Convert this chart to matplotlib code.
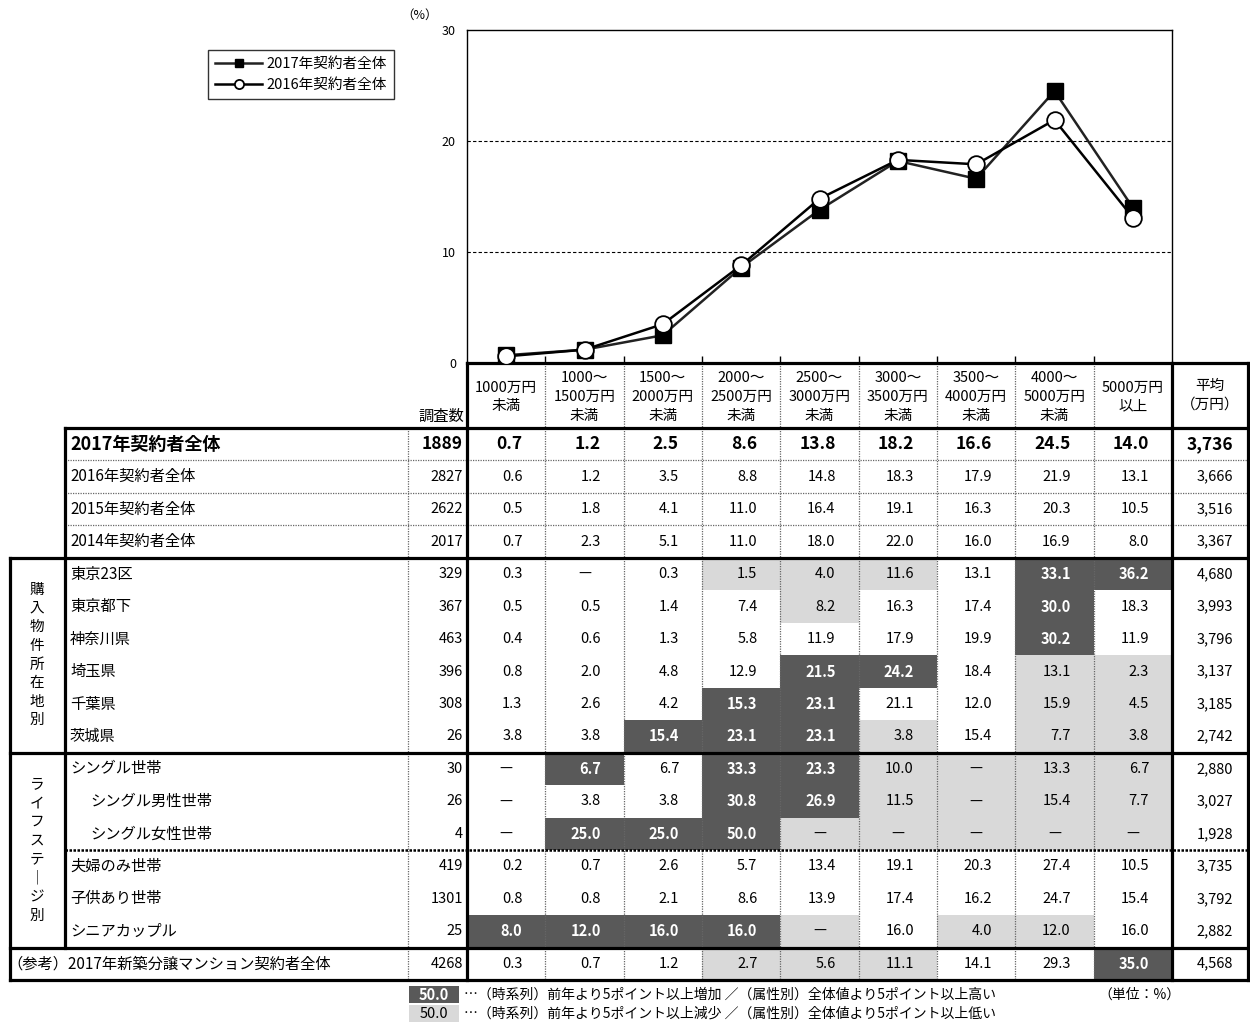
import matplotlib
matplotlib.use("Agg")
import matplotlib.pyplot as plt
from matplotlib.patches import Rectangle
from matplotlib.lines import Line2D

plt.rcParams['font.family'] = ['Noto Sans CJK JP', 'DejaVu Sans']

# ---------------- data ----------------
price_bands = ["1000万円\n未満", "1000～\n1500万円\n未満", "1500～\n2000万円\n未満",
               "2000～\n2500万円\n未満", "2500～\n3000万円\n未満", "3000～\n3500万円\n未満",
               "3500～\n4000万円\n未満", "4000～\n5000万円\n未満", "5000万円\n以上"]
avg_header = "平均\n（万円）"
count_header = "調査数"

row_labels = ["2017年契約者全体", "2016年契約者全体", "2015年契約者全体", "2014年契約者全体",
              "東京23区", "東京都下", "神奈川県", "埼玉県", "千葉県", "茨城県",
              "シングル世帯", "シングル男性世帯", "シングル女性世帯",
              "夫婦のみ世帯", "子供あり世帯", "シニアカップル",
              "（参考）2017年新築分譲マンション契約者全体"]
sample_sizes = [1889, 2827, 2622, 2017, 329, 367, 463, 396, 308, 26,
                30, 26, 4, 419, 1301, 25, 4268]

shares_2017 = [0.7, 1.2, 2.5, 8.6, 13.8, 18.2, 16.6, 24.5, 14.0]
shares_2016 = [0.6, 1.2, 3.5, 8.8, 14.8, 18.3, 17.9, 21.9, 13.1]
shares_2015 = [0.5, 1.8, 4.1, 11.0, 16.4, 19.1, 16.3, 20.3, 10.5]
shares_2014 = [0.7, 2.3, 5.1, 11.0, 18.0, 22.0, 16.0, 16.9, 8.0]
shares_tokyo23 = [0.3, None, 0.3, 1.5, 4.0, 11.6, 13.1, 33.1, 36.2]
shares_tokyo_other = [0.5, 0.5, 1.4, 7.4, 8.2, 16.3, 17.4, 30.0, 18.3]
shares_kanagawa = [0.4, 0.6, 1.3, 5.8, 11.9, 17.9, 19.9, 30.2, 11.9]
shares_saitama = [0.8, 2.0, 4.8, 12.9, 21.5, 24.2, 18.4, 13.1, 2.3]
shares_chiba = [1.3, 2.6, 4.2, 15.3, 23.1, 21.1, 12.0, 15.9, 4.5]
shares_ibaraki = [3.8, 3.8, 15.4, 23.1, 23.1, 3.8, 15.4, 7.7, 3.8]
shares_single = [None, 6.7, 6.7, 33.3, 23.3, 10.0, None, 13.3, 6.7]
shares_single_m = [None, 3.8, 3.8, 30.8, 26.9, 11.5, None, 15.4, 7.7]
shares_single_f = [None, 25.0, 25.0, 50.0, None, None, None, None, None]
shares_couple = [0.2, 0.7, 2.6, 5.7, 13.4, 19.1, 20.3, 27.4, 10.5]
shares_children = [0.8, 0.8, 2.1, 8.6, 13.9, 17.4, 16.2, 24.7, 15.4]
shares_senior = [8.0, 12.0, 16.0, 16.0, None, 16.0, 4.0, 12.0, 16.0]
shares_newcondo = [0.3, 0.7, 1.2, 2.7, 5.6, 11.1, 14.1, 29.3, 35.0]

avg_price = [3736, 3666, 3516, 3367, 4680, 3993, 3796, 3137, 3185, 2742,
             2880, 3027, 1928, 3735, 3792, 2882, 4568]

# D = 5pt or more above, L = 5pt or more below, . = no mark
shading = [".........", ".........", ".........", ".........",
           "...LLL.DD", "....L..D.", ".......D.", "....DD.LL", "...DD..LL", "..DDDL.LL",
           ".D.DDLLLL", "...DDLLLL", ".DDDLLLLL",
           ".........", ".........", "DDDDL.LL.",
           "...LLL..D"]

group_labels = ["購入物件所在地別", "ライフステ｜ジ別"]

series_names = ["2017年契約者全体", "2016年契約者全体"]
legend_notes = ["…（時系列）前年より5ポイント以上増加 ／（属性別）全体値より5ポイント以上高い",
                "…（時系列）前年より5ポイント以上減少 ／（属性別）全体値より5ポイント以上低い"]
unit_note = "（単位：%）"

table_rows = [shares_2017, shares_2016, shares_2015, shares_2014,
              shares_tokyo23, shares_tokyo_other, shares_kanagawa, shares_saitama,
              shares_chiba, shares_ibaraki, shares_single, shares_single_m,
              shares_single_f, shares_couple, shares_children, shares_senior,
              shares_newcondo]

# ---------------- layout (pixels) ----------------
W, H = 1250, 1024
DARK = "#595959"
LIGHT = "#d9d9d9"
X_LEFT, X_GROUP, X_DOT, X_COUNT = 10, 65, 408, 467
X_VALS_END, X_AVG_END = 1172, 1248
Y_HEAD_TOP, Y_HEAD_BOT = 363, 428
ROW_H = (980 - 428) / 17
CHART_TOP = 30
col_w = (X_VALS_END - X_COUNT) / 9
col_edges = [X_COUNT + i * col_w for i in range(10)]

fig = plt.figure(figsize=(W / 100, H / 100), dpi=100)
tab = fig.add_axes([0, 0, 1, 1])
tab.set_xlim(0, W)
tab.set_ylim(H, 0)
tab.axis("off")

def row_top(i):
    return Y_HEAD_BOT + i * ROW_H

# ---------------- cells ----------------
for i, vals in enumerate(table_rows):
    yt = row_top(i)
    yc = yt + ROW_H / 2
    head = (i == 0)
    for j, v in enumerate(vals):
        code = shading[i][j]
        x0, x1 = col_edges[j], col_edges[j + 1]
        if code != ".":
            tab.add_patch(Rectangle((x0, yt), x1 - x0, ROW_H,
                                    facecolor=DARK if code == "D" else LIGHT,
                                    edgecolor="none", zorder=1))
        color = "white" if code == "D" else "black"
        weight = "bold" if (code == "D" or head) else "normal"
        fs = 12.5 if head else 10.5
        if v is None:
            tab.text((x0 + x1) / 2, yc, "—", ha="center", va="center",
                     fontsize=fs, color=color, weight=weight, zorder=3)
        else:
            tab.text(x1 - 23, yc, f"{v:.1f}", ha="right", va="center",
                     fontsize=fs, color=color, weight=weight, zorder=3)
    # average
    tab.text(1233, yc, f"{avg_price[i]:,}", ha="right", va="center",
             fontsize=12.5 if head else 10.5, weight="bold" if head else "normal",
             zorder=3)
    # sample size
    tab.text(X_COUNT - 4, yc, str(sample_sizes[i]), ha="right", va="center",
             fontsize=12.5 if head else 10.5, weight="bold" if head else "normal",
             zorder=3)
    # row label
    if i == 16:
        lx = X_LEFT - 3
    elif i in (11, 12):
        lx = 90
    else:
        lx = 70
    tab.text(lx, yc, row_labels[i], ha="left", va="center",
             fontsize=13 if head else 11, weight="bold" if head else "normal",
             zorder=3)

# header
for j, lab in enumerate(price_bands):
    tab.text((col_edges[j] + col_edges[j + 1]) / 2, 397, lab, ha="center", va="center",
             fontsize=10.5, linespacing=1.45, zorder=3)
tab.text((X_VALS_END + X_AVG_END) / 2, 395, avg_header, ha="center", va="center",
         fontsize=10.5, linespacing=1.45, zorder=3)
tab.text(X_COUNT - 3, 425, count_header, ha="right", va="bottom", fontsize=11, zorder=3)

# group labels (stacked vertically)
for g, (r0, r1) in zip(group_labels, [(4, 10), (10, 16)]):
    yc = (row_top(r0) + row_top(r1)) / 2
    tab.text(37, yc, "\n".join(g), ha="center", va="center", fontsize=10.5,
             linespacing=1.42, zorder=3)

# ---------------- grid lines ----------------
THICK = 2.3
def hline(y, x0, x1, **kw):
    tab.add_line(Line2D([x0, x1], [y, y], **kw))

def vline(x, y0, y1, **kw):
    tab.add_line(Line2D([x, x], [y0, y1], **kw))

dot_kw = dict(color="#666666", lw=0.9, linestyle=(0, (1, 1)), zorder=2)
for j in range(1, 9):
    vline(col_edges[j], Y_HEAD_TOP, row_top(17), **dot_kw)
vline(X_DOT, Y_HEAD_BOT, row_top(17), **dot_kw)
for i in (1, 2, 3):
    hline(row_top(i), X_GROUP, X_AVG_END, **dot_kw)
hline(row_top(13), X_GROUP, X_AVG_END, color="black", lw=1.8,
      linestyle=(0, (1, 0.6)), zorder=4)

thick_kw = dict(color="black", lw=THICK, zorder=5, solid_capstyle="projecting")
hline(Y_HEAD_TOP, X_COUNT, X_AVG_END, **thick_kw)
hline(Y_HEAD_BOT, X_GROUP, X_AVG_END, **thick_kw)
for i in (4, 10, 16, 17):
    hline(row_top(i), X_LEFT, X_AVG_END, **thick_kw)
vline(X_LEFT, row_top(4), row_top(17), **thick_kw)
vline(X_GROUP, Y_HEAD_BOT, row_top(16), **thick_kw)
vline(X_COUNT, Y_HEAD_TOP, row_top(17), **thick_kw)
vline(X_VALS_END, Y_HEAD_TOP, row_top(17), **thick_kw)
vline(X_AVG_END, Y_HEAD_TOP, row_top(17), **thick_kw)

# ---------------- bottom key ----------------
for k, (fc, tc) in enumerate([(DARK, "white"), (LIGHT, "black")]):
    y0 = 986 + k * 19
    tab.add_patch(Rectangle((409, y0), 50, 17, facecolor=fc, edgecolor="none"))
    tab.text(434, y0 + 8.5, "50.0", ha="center", va="center", fontsize=10.5,
             color=tc, weight="bold" if k == 0 else "normal")
    tab.text(464, y0 + 8.5, legend_notes[k], ha="left", va="center", fontsize=10)
tab.text(1098, 994.5, unit_note, ha="left", va="center", fontsize=10)

# ---------------- line chart ----------------
ax = fig.add_axes([X_COUNT / W, 1 - Y_HEAD_TOP / H, (X_VALS_END - X_COUNT) / W,
                   (Y_HEAD_TOP - CHART_TOP) / H])
xs = list(range(len(price_bands)))
l17, = ax.plot(xs, shares_2017, color="#222222", lw=1.8, marker="s", markersize=11,
               markerfacecolor="black", markeredgecolor="black", zorder=3,
               label=series_names[0])
l16, = ax.plot(xs, shares_2016, color="black", lw=1.8, marker="o", markersize=12,
               markerfacecolor="white", markeredgecolor="black", markeredgewidth=1.3,
               zorder=4, label=series_names[1])
ax.set_xlim(-0.5, len(price_bands) - 0.5)
ax.set_ylim(0, 30)
ax.set_yticks([0, 10, 20, 30])
ax.set_xticks([k + 0.5 for k in range(len(price_bands) - 1)])
ax.set_xticklabels([])
ax.tick_params(axis="x", direction="in", length=5, width=1)
ax.tick_params(axis="y", direction="in", length=0, labelsize=9, pad=8)
for y in (10, 20):
    ax.axhline(y, color="black", lw=0.8, linestyle=(0, (3, 2)), zorder=1)
for s in ax.spines.values():
    s.set_linewidth(1.0)
ax.patch.set_alpha(0)
ax.text(-0.068, 1.045, "（%）", transform=ax.transAxes, ha="center", va="center", fontsize=9)

leg = ax.legend(handles=[l17, l16], loc="upper left",
                bbox_to_anchor=(208 / W, 1 - 50 / H), bbox_transform=fig.transFigure,
                frameon=True, fancybox=False, edgecolor="black", fontsize=10.5,
                markerscale=0.55, handlelength=3.2, handletextpad=0.3,
                borderpad=0.5, labelspacing=0.45, borderaxespad=0)
leg.get_frame().set_linewidth(1.0)

fig.savefig("out.png", dpi=100)
